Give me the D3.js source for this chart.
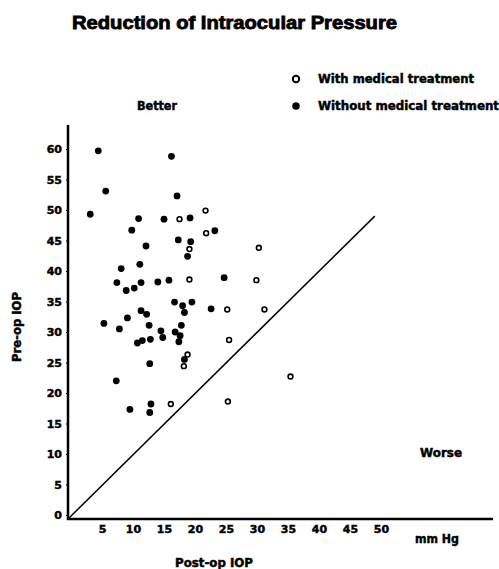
<!DOCTYPE html>
<html><head><meta charset="utf-8">
<script src="https://cdn.jsdelivr.net/npm/d3@7"></script>
<style>body{margin:0;background:#fff}svg{display:block}text{stroke:#000;stroke-width:0.45px}</style>
</head><body>
<svg id="c" width="499" height="569"></svg>
<script>
// ---- data ----
const xTicks = [5, 10, 15, 20, 25, 30, 35, 40, 45, 50];
const yTicks = [0, 5, 10, 15, 20, 25, 30, 35, 40, 45, 50, 55, 60];
const withoutPost = [4.4,5.6,3.1,10.9,15.0,9.8,12.1,8.1,11.1,7.4,8.9,10.2,11.3,14.0,15.8,16.2,17.1,19.2,23.2,17.3,19.3,18.8,24.7,16.7,18.0,18.3,19.5,22.6,11.3,12.2,9.1,5.3,7.8,12.6,14.5,14.8,17.8,16.8,17.6,17.4,10.7,11.5,12.8,12.7,7.3,9.5,12.9,12.7,18.3];
const withoutPre  = [59.7,53.1,49.3,48.6,48.5,46.7,44.1,40.4,41.1,38.1,36.8,37.2,38.1,38.2,38.5,58.8,52.3,48.7,46.6,45.1,44.8,42.4,38.9,34.9,34.3,33.2,34.9,33.8,33.5,32.9,32.3,31.4,30.5,31.1,30.2,29.1,31.1,30.0,29.4,28.4,28.2,28.6,28.8,24.8,22.0,17.3,18.2,16.8,25.5];
const withPost = [17.5,21.7,21.8,19.1,30.3,19.1,29.9,25.2,31.2,25.5,18.8,18.2,35.4,25.3,16.1];
const withPre  = [48.5,49.9,46.2,43.6,43.8,38.6,38.5,33.7,33.7,28.7,26.3,24.4,22.7,18.6,18.2];
const identityLine = [0, 49];
const legendLabels = ["With medical treatment", "Without medical treatment"];

// ---- chart ----
const svg = d3.select('#c');
const FONT = "'DejaVu Sans', sans-serif";
const x = d3.scaleLinear().domain([0, 50]).range([71, 381]);
const y = d3.scaleLinear().domain([0, 60]).range([515, 149]);

// title
svg.append('text').attr('x', 72).attr('y', 29).attr('font-family', "'Liberation Sans', Arial, sans-serif")
  .attr('font-weight', 'bold').attr('font-size', 17.5).attr('textLength', 325).attr('lengthAdjust', 'spacingAndGlyphs')
  .style('stroke-width', '0.8px')
  .text('Reduction of Intraocular Pressure');

// axes lines
svg.append('line').attr('x1', x(0) - 3).attr('x2', x(0) - 3).attr('y1', 125).attr('y2', y(0) + 5)
  .attr('stroke', '#000').attr('stroke-width', 2.5);
svg.append('line').attr('x1', x(0) - 4).attr('x2', 493).attr('y1', y(0) + 4).attr('y2', y(0) + 4)
  .attr('stroke', '#000').attr('stroke-width', 2.5);

// y axis ticks
const ya = svg.append('g').attr('transform', `translate(${x(0) - 3},0)`)
  .call(d3.axisLeft(y).tickValues(yTicks).tickSize(2).tickPadding(4));
ya.select('.domain').remove();
ya.selectAll('text').attr('font-family', FONT).attr('font-weight', 'bold').attr('font-size', 11);

// x axis ticks
const xa = svg.append('g').attr('transform', `translate(0,${y(0) + 4})`)
  .call(d3.axisBottom(x).tickValues(xTicks).tickSize(0).tickPadding(6));
xa.select('.domain').remove();
xa.selectAll('text').attr('font-family', FONT).attr('font-weight', 'bold').attr('font-size', 11);

// identity line
svg.append('line').attr('x1', x(identityLine[0]) - 3).attr('y1', y(identityLine[0]) + 4)
  .attr('x2', x(identityLine[1])).attr('y2', y(identityLine[1]))
  .attr('stroke', '#000').attr('stroke-width', 1.5);

// points
svg.append('g').selectAll('circle').data(withoutPost.map((d, i) => [d, withoutPre[i]])).join('circle')
  .attr('cx', d => x(d[0])).attr('cy', d => y(d[1])).attr('r', 3.4).attr('fill', '#000');
svg.append('g').selectAll('circle').data(withPost.map((d, i) => [d, withPre[i]])).join('circle')
  .attr('cx', d => x(d[0])).attr('cy', d => y(d[1])).attr('r', 2.4).attr('fill', '#fff')
  .attr('stroke', '#000').attr('stroke-width', 1.6);

// legend
const lg = svg.append('g');
lg.append('circle').attr('cx', 296).attr('cy', 79).attr('r', 3.2).attr('fill', '#fff').attr('stroke', '#000').attr('stroke-width', 2);
lg.append('circle').attr('cx', 296).attr('cy', 106).attr('r', 3.8).attr('fill', '#000');
const lt = [[legendLabels[0], 318, 83, 156], [legendLabels[1], 318, 110, 181]];
lt.forEach(d => lg.append('text').attr('x', d[1]).attr('y', d[2]).attr('font-family', FONT).attr('font-weight', 'bold')
  .attr('font-size', 11.5).attr('textLength', d[3]).attr('lengthAdjust', 'spacingAndGlyphs').text(d[0]));

function label(t, px, py, w, size) {
  return svg.append('text').attr('x', px).attr('y', py).attr('font-family', FONT).attr('font-weight', 'bold')
    .attr('font-size', size || 11.5).attr('textLength', w).attr('lengthAdjust', 'spacingAndGlyphs').text(t);
}
label('Better', 137, 110, 40);
label('Worse', 420, 457, 42);
label('Post-op IOP', 175, 567, 78);
label('mm Hg', 415, 543, 44);
svg.append('text').attr('transform', 'translate(21,362) rotate(-90)').attr('font-family', FONT).attr('font-weight', 'bold')
  .attr('font-size', 11.5).attr('textLength', 70).attr('lengthAdjust', 'spacingAndGlyphs').text('Pre-op IOP');
</script>
</body></html>
